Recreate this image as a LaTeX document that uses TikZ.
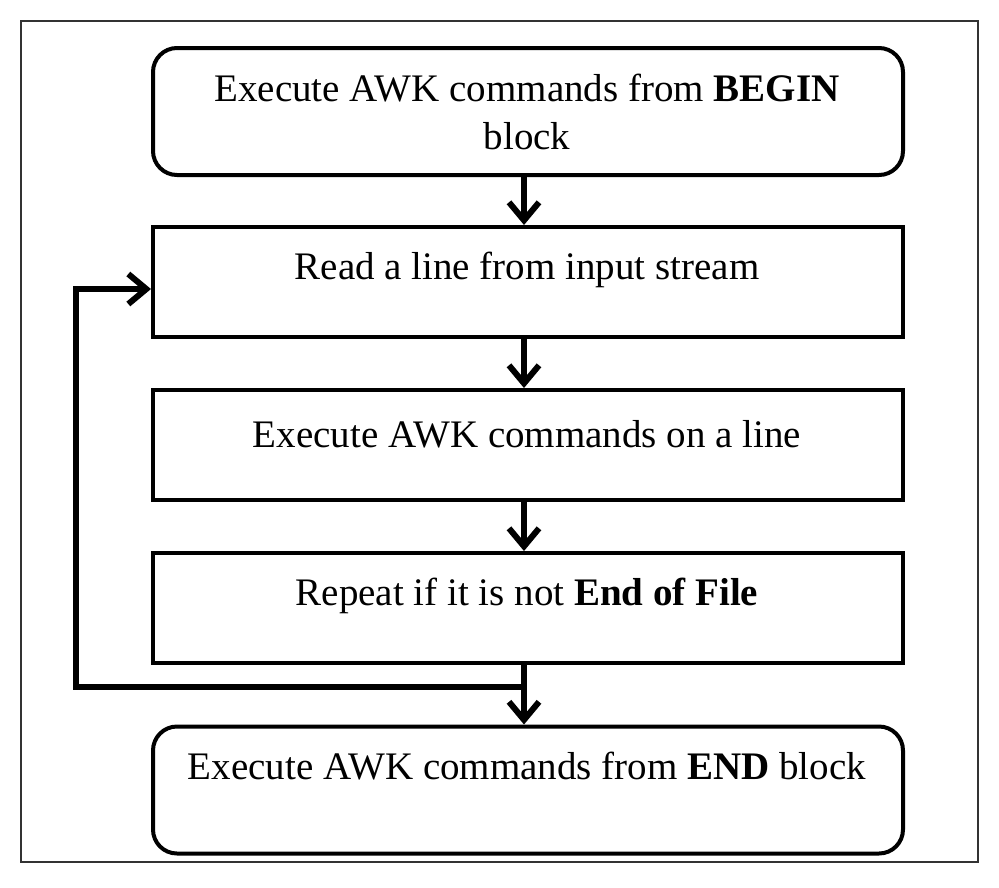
\documentclass[tikz,border=0pt]{standalone}
\usepackage{fontspec}
\setmainfont{Liberation Serif}
\usetikzlibrary{arrows.meta}
\begin{document}
\begin{tikzpicture}[x=1pt,y=-1pt,
  box/.style={draw, line width=4pt, inner sep=0pt, minimum width=750pt, minimum height=110pt},
  rbox/.style={box, rounded corners=24pt, minimum height=127pt},
  lbl/.style={font=\fontsize{39}{48}\selectfont, align=center, inner sep=0pt},
  flow/.style={line width=6pt, -{Straight Barb[length=18pt,width=30pt]}}
]
\useasboundingbox (0,0) rectangle (999,887);
\draw[line width=1.5pt, black!80] (21,21) rectangle (978,862);

\node[rbox] (b1) at (528,111.5) {};
\node[box] (b2) at (528,282) {};
\node[box] (b3) at (528,445) {};
\node[box] (b4) at (528,608) {};
\node[rbox] (b5) at (528,790) {};

\node[lbl] (t1) at (527,112) {Execute AWK commands from \textbf{BEGIN}\\block};
\node[lbl] (t2) at (527,270) {Read a line from input stream};
\node[lbl] (t3) at (527,434) {Execute AWK commands on a line};
\node[lbl] (t4) at (527,596) {Repeat if it is not \textbf{End of File}};
\node[lbl] (t5) at (527,766) {Execute AWK commands from \textbf{END} block};

\coordinate (ax) at (524,0);
\coordinate (j) at (524,687);
\coordinate (lp) at (76,289);

\draw[flow] (b1.south -| ax) -- (b2.north -| ax);
\draw[flow] (b2.south -| ax) -- (b3.north -| ax);
\draw[flow] (b3.south -| ax) -- (b4.north -| ax);
\draw[flow] (b4.south -| ax) -- (b5.north -| ax);
\draw[flow] (j) -| (lp) -- (lp -| b2.west);
\end{tikzpicture}
\end{document}
